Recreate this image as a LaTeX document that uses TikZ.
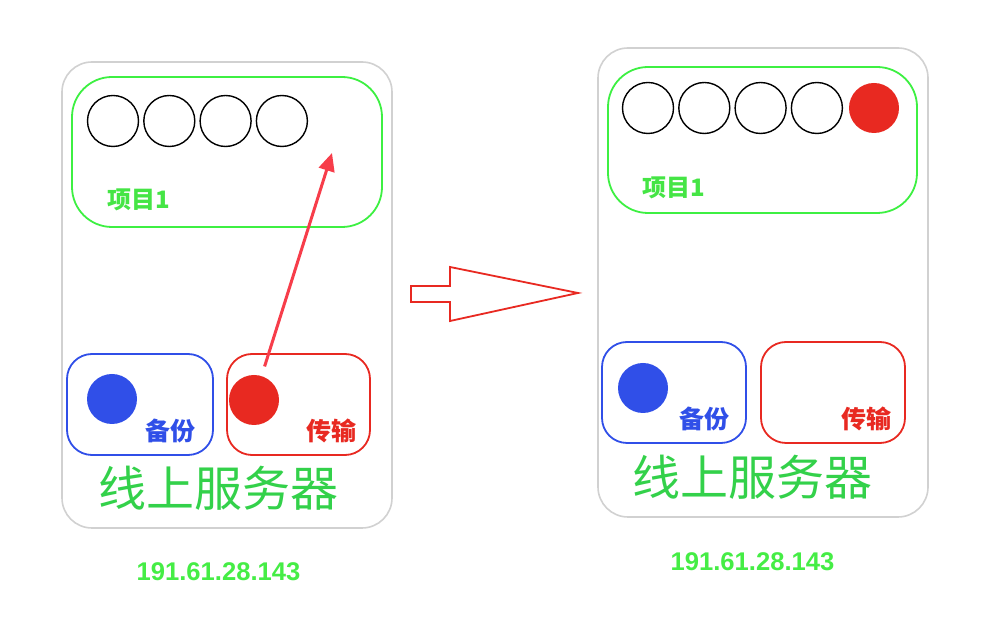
\documentclass[tikz,border=0pt]{standalone}
\usepackage{fontspec}
\setmainfont{Liberation Sans}
\newfontfamily\cjk{Noto Sans CJK SC}
\usetikzlibrary{arrows.meta}
\usetikzlibrary{positioning}

\begin{document}
\begin{tikzpicture}[x=1pt,y=1pt,
  server/.style={draw=boxGray,line width=1.6pt,rounded corners=30pt,inner sep=0pt},
  project/.style={draw=projGreen,line width=1.8pt,rounded corners=40pt,inner sep=0pt},
  part/.style={line width=1.8pt,rounded corners=25pt,inner sep=0pt,minimum height=101pt},
  slot/.style={circle,draw=black,line width=1.4pt,minimum size=51pt,inner sep=0pt},
  dot/.style={circle,minimum size=50pt,inner sep=0pt},
  tag/.style={inner sep=0pt,font=\cjk\bfseries\fontsize{25}{25}\selectfont},
  title/.style={inner sep=0pt,text=titleGreen,font=\cjk\fontsize{48}{48}\selectfont},
  addr/.style={inner sep=0pt,text=ipGreen,font=\bfseries\fontsize{25.6}{25.6}\selectfont}]
\definecolor[named]{boxGray}{rgb}{0.82,0.82,0.82}
\definecolor[named]{projGreen}{rgb}{0.24,0.94,0.26}
\definecolor[named]{tagGreen}{rgb}{0.27,0.90,0.27}
\definecolor[named]{titleGreen}{rgb}{0.20,0.82,0.29}
\definecolor[named]{ipGreen}{rgb}{0.27,0.93,0.27}
\definecolor[named]{backBlue}{rgb}{0.19,0.31,0.91}
\definecolor[named]{sendRed}{rgb}{0.91,0.16,0.13}
\definecolor[named]{moveRed}{rgb}{0.97,0.24,0.29}
\path[use as bounding box,fill=white] (0,0) rectangle (990,618);

% before
\node[server,minimum width=330pt,minimum height=466pt] (srvL) at (227,323) {};
\node[project,minimum width=310pt,minimum height=150pt] (projL) at (227,466) {};
\foreach \i in {0,...,3}
  \node[slot] (slotL\i) at (113+56.3*\i,497) {};
\node[tag,text=tagGreen,font=\cjk\bfseries\fontsize{24}{24}\selectfont] (projNameL) at (139,418) {项目1};
\node[part,draw=backBlue,minimum width=146pt] (backL) at (140,213.5) {};
\node[dot,fill=backBlue] (backDotL) at (112,219) {};
\node[tag,text=backBlue] (backNameL) at (170,187) {备份};
\node[part,draw=sendRed,minimum width=143pt] (sendL) at (298.5,213.5) {};
\node[dot,fill=sendRed] (sendDotL) at (254,218) {};
\node[tag,text=sendRed] (sendNameL) at (331,187) {传输};
\node[title] (titleL) at (218,130) {线上服务器};
\node[addr] (ipL) at (218.5,46) {191.61.28.143};
\coordinate (slotNew) at (332,465);
\draw[moveRed,line width=3pt,shorten <=10pt,-{Triangle[length=18pt,width=16pt]}] (sendDotL) -- (slotNew);

% step between
\draw[sendRed,line width=1.8pt] (411,332) -- (450,332) -- (450,351) -- (578,325)
  -- (450,297) -- (450,316) -- (411,316) -- cycle;

% after
\node[server,minimum width=330pt,minimum height=469pt] (srvR) at (763,335.5) {};
\node[project,minimum width=309pt,minimum height=146pt] (projR) at (762.5,478) {};
\foreach \i in {0,...,3}
  \node[slot] (slotR\i) at (648+56.3*\i,510) {};
\node[dot,fill=sendRed] (slotR4) at (874,510) {};
\node[tag,text=tagGreen,font=\cjk\bfseries\fontsize{24}{24}\selectfont] (projNameR) at (673.5,430) {项目1};
\node[part,draw=backBlue,minimum width=144pt] (backR) at (674,225.5) {};
\node[dot,fill=backBlue] (backDotR) at (643,230) {};
\node[tag,text=backBlue] (backNameR) at (704,199) {备份};
\node[part,draw=sendRed,minimum width=144pt] (sendR) at (833,225.5) {};
\node[tag,text=sendRed] (sendNameR) at (866,199) {传输};
\node[title] (titleR) at (752.5,141) {线上服务器};
\node[addr] (ipR) at (752.5,56) {191.61.28.143};
\end{tikzpicture}
\end{document}
